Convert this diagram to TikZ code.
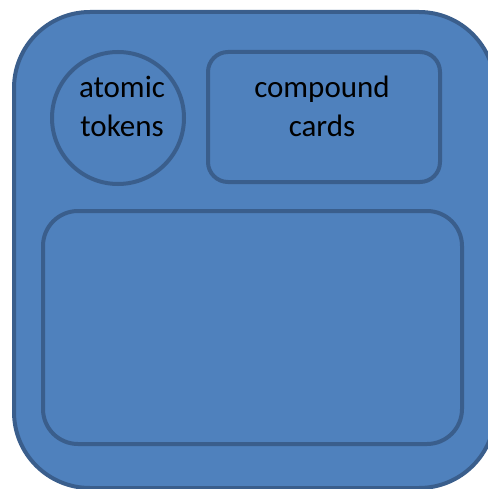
\documentclass[tikz,border=0pt]{standalone}
\usepackage{fontspec}
\setmainfont{Carlito}
\usetikzlibrary{positioning}
\definecolor{boxfill}{HTML}{4F81BD}
\definecolor{boxline}{HTML}{3A5E8C}

\begin{document}
\begin{tikzpicture}[x=1pt,y=-1pt,
    part/.style={fill=boxfill,draw=boxline,line width=4pt,inner sep=0pt},
    caption/.style={font=\fontsize{31}{39}\selectfont,align=center,inner sep=0pt}]
    \useasboundingbox (0,0) rectangle (487,489);
    \node[part,rounded corners=76pt,minimum width=481pt,minimum height=476pt] (board) at (254.5,250) {};
    \node[part,circle,minimum size=132pt] (atoms) at (118,118) {};
    \node[part,rounded corners=20pt,minimum width=232pt,minimum height=130pt] (cards) at (324,117) {};
    \node[part,rounded corners=35pt,minimum width=419pt,minimum height=233pt] (table) at (252.5,327.5) {};
    \node[caption] (atomstext) at (122,106) {atomic\\tokens};
    \node[caption] (cardstext) at (322,106) {compound\\cards};
\end{tikzpicture}
\end{document}
